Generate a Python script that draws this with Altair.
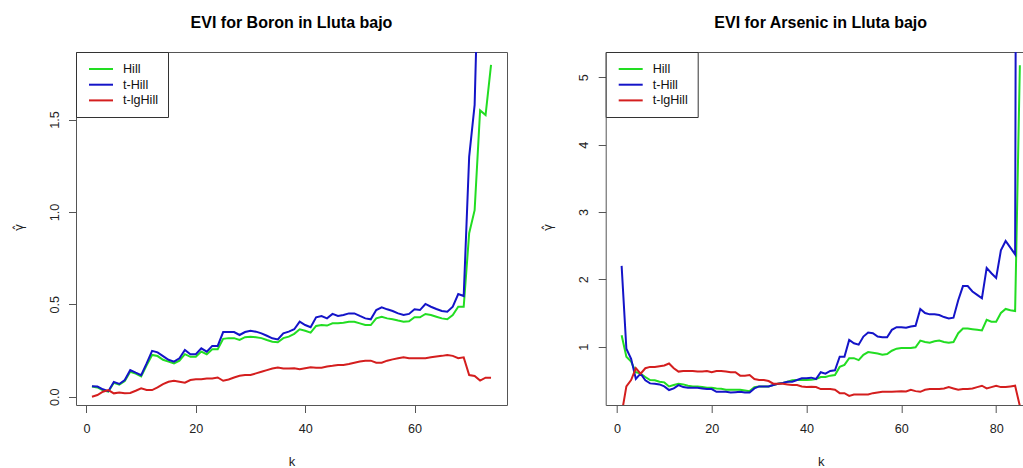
import altair as alt
import pandas as pd

# Estimators, in drawing order, and their line colours
SERIES = ["Hill", "t-Hill", "t-lgHill"]
COLORS = ["#22dd22", "#1414c8", "#d41e1e"]

# ---- Boron, Lluta bajo (k = 1 .. 74) ----
boron_hill = [0.055, 0.05, 0.035, 0.027, 0.075, 0.065, 0.085, 0.135, 0.125, 0.11,
              0.17, 0.226, 0.22, 0.20, 0.19, 0.18, 0.195, 0.23, 0.216, 0.216,
              0.244, 0.23, 0.257, 0.257, 0.313, 0.317, 0.317, 0.307, 0.322, 0.325,
              0.322, 0.317, 0.307, 0.298, 0.295, 0.317, 0.325, 0.340, 0.365, 0.357,
              0.347, 0.383, 0.388, 0.385, 0.397, 0.397, 0.40, 0.406, 0.406, 0.397,
              0.388, 0.388, 0.424, 0.433, 0.424, 0.419, 0.412, 0.406, 0.408, 0.43,
              0.43, 0.448, 0.442, 0.433, 0.424, 0.419, 0.442, 0.487, 0.487, 0.885,
              1.01, 1.55, 1.525, 1.796]
boron_thill = [0.057, 0.055, 0.04, 0.03, 0.08, 0.069, 0.09, 0.144, 0.13, 0.117,
               0.18, 0.248, 0.24, 0.22, 0.20, 0.19, 0.208, 0.253, 0.23, 0.23,
               0.262, 0.244, 0.275, 0.275, 0.35, 0.35, 0.35, 0.334, 0.35, 0.357,
               0.352, 0.343, 0.33, 0.316, 0.31, 0.343, 0.352, 0.365, 0.406, 0.388,
               0.376, 0.43, 0.437, 0.424, 0.448, 0.437, 0.442, 0.451, 0.451, 0.437,
               0.424, 0.419, 0.469, 0.484, 0.473, 0.464, 0.451, 0.442, 0.448, 0.473,
               0.469, 0.502, 0.487, 0.475, 0.464, 0.46, 0.487, 0.556, 0.545, 1.30,
               1.58, 2.7, 3.4, 3.9]
boron_tlghill = [0.0, 0.009, 0.027, 0.036, 0.018, 0.022, 0.018, 0.02, 0.032, 0.045,
                 0.036, 0.036, 0.05, 0.068, 0.081, 0.086, 0.081, 0.076, 0.09, 0.095,
                 0.095, 0.099, 0.099, 0.104, 0.086, 0.093, 0.104, 0.113, 0.117, 0.117,
                 0.126, 0.135, 0.144, 0.153, 0.158, 0.153, 0.153, 0.154, 0.148, 0.154,
                 0.159, 0.157, 0.157, 0.163, 0.167, 0.172, 0.172, 0.177, 0.184, 0.19,
                 0.195, 0.195, 0.184, 0.184, 0.195, 0.202, 0.208, 0.213, 0.208, 0.208,
                 0.208, 0.208, 0.213, 0.217, 0.221, 0.226, 0.221, 0.208, 0.213, 0.117,
                 0.112, 0.087, 0.103, 0.103]

# ---- Arsenic, Lluta bajo (k = 1 .. 85) ----
arsenic_hill = [1.17, 0.85, 0.78, 0.62, 0.60, 0.55, 0.505, 0.50, 0.48, 0.47,
                0.41, 0.43, 0.45, 0.44, 0.42, 0.41, 0.41, 0.40, 0.39, 0.39,
                0.38, 0.375, 0.36, 0.36, 0.36, 0.36, 0.35, 0.34, 0.40, 0.41,
                0.41, 0.41, 0.43, 0.45, 0.46, 0.48, 0.50, 0.505, 0.505, 0.505,
                0.51, 0.52, 0.55, 0.55, 0.57, 0.58, 0.70, 0.73, 0.83, 0.83,
                0.80, 0.88, 0.92, 0.91, 0.90, 0.88, 0.89, 0.94, 0.97, 0.98,
                0.98, 0.98, 0.99, 1.09, 1.07, 1.06, 1.08, 1.09, 1.07, 1.06,
                1.07, 1.20, 1.27, 1.27, 1.26, 1.25, 1.24, 1.40, 1.37, 1.37,
                1.50, 1.56, 1.54, 1.53, 5.18]
arsenic_thill = [2.20, 0.97, 0.82, 0.52, 0.60, 0.50, 0.455, 0.45, 0.44, 0.41,
                 0.356, 0.38, 0.43, 0.40, 0.39, 0.39, 0.39, 0.38, 0.37, 0.37,
                 0.33, 0.33, 0.33, 0.32, 0.325, 0.33, 0.32, 0.32, 0.38, 0.41,
                 0.41, 0.41, 0.43, 0.45, 0.46, 0.48, 0.48, 0.505, 0.53, 0.53,
                 0.54, 0.52, 0.62, 0.60, 0.64, 0.65, 0.85, 0.85, 1.10, 1.05,
                 1.03, 1.15, 1.21, 1.20, 1.15, 1.14, 1.14, 1.25, 1.29, 1.29,
                 1.28, 1.30, 1.31, 1.56, 1.50, 1.48, 1.48, 1.47, 1.44, 1.42,
                 1.43, 1.69, 1.90, 1.90, 1.82, 1.77, 1.72, 2.17, 2.09, 2.02,
                 2.43, 2.57, 2.47, 2.37, 30.0]
arsenic_tlghill = [0.0, 0.41, 0.505, 0.68, 0.60, 0.68, 0.70, 0.70, 0.71, 0.72,
                   0.75, 0.68, 0.63, 0.64, 0.64, 0.64, 0.63, 0.63, 0.64, 0.62,
                   0.64, 0.64, 0.63, 0.62, 0.62, 0.57, 0.57, 0.58, 0.52, 0.505,
                   0.505, 0.49, 0.45, 0.45, 0.45, 0.44, 0.43, 0.43, 0.41, 0.40,
                   0.406, 0.40, 0.37, 0.37, 0.37, 0.36, 0.31, 0.31, 0.27, 0.29,
                   0.29, 0.29, 0.29, 0.31, 0.32, 0.33, 0.33, 0.33, 0.335, 0.34,
                   0.335, 0.36, 0.34, 0.33, 0.36, 0.37, 0.37, 0.37, 0.38, 0.40,
                   0.38, 0.36, 0.37, 0.37, 0.38, 0.40, 0.42, 0.38, 0.40, 0.42,
                   0.40, 0.40, 0.41, 0.42, 0.12]

FONT = "Liberation Sans"
FRAME = "#555555"


def long_frame(columns):
    rows = []
    for name, values in zip(SERIES, columns):
        for k, v in enumerate(values, start=1):
            rows.append({"k": k, "gamma": v, "estimator": name})
    return pd.DataFrame(rows)


def panel(df, title, xdom, ydom, xticks, yticks, yfmt, width, title_dx, ktitle_x, right_frame):
    xscale = alt.Scale(domain=xdom, nice=False, zero=False)
    yscale = alt.Scale(domain=ydom, nice=False, zero=False)

    lines = alt.Chart(df).mark_line(strokeWidth=2, clip=True).encode(
        x=alt.X("k:Q", scale=xscale,
                axis=alt.Axis(values=xticks, title="k", titleX=ktitle_x, titleY=60,
                              titleAlign="center", titleBaseline="alphabetic")),
        y=alt.Y("gamma:Q", scale=yscale,
                axis=alt.Axis(values=yticks, format=yfmt, title="γ̂",
                              labelAngle=-90, labelAlign="center", labelBaseline="alphabetic",
                              labelPadding=10.5, titleAngle=270, titleX=-54, titleY=175,
                              titleAlign="center", titleBaseline="alphabetic",
                              titleFont="DejaVu Sans", titleFontSize=12)),
        color=alt.Color("estimator:N",
                        scale=alt.Scale(domain=SERIES, range=COLORS),
                        sort=SERIES,
                        legend=alt.Legend(title=None, orient="top-left", offset=0,
                                          symbolType="M-2,0H2", symbolSize=144,
                                          symbolStrokeWidth=2, symbolOffset=8,
                                          labelOffset=15, labelFontSize=12.6,
                                          labelFont=FONT, labelColor="#111111",
                                          rowPadding=1.7, padding=10,
                                          strokeColor="#333333", fillColor="white")),
    )

    # invisible copy that carries the top (and right) sides of the frame
    frame_y = (alt.Axis(orient="right", labels=False, ticks=False, title=None,
                        domain=True, grid=False)
               if right_frame else None)
    frame = alt.Chart(df).mark_line(opacity=0, clip=True).encode(
        x=alt.X("k:Q", scale=xscale,
                axis=alt.Axis(orient="top", labels=False, ticks=False, title=None,
                              domain=True, grid=False)),
        y=alt.Y("gamma:Q", scale=yscale, axis=frame_y),
    )

    return alt.layer(frame, lines).resolve_axis(x="independent", y="independent").properties(
        width=width, height=353,
        title=alt.TitleParams(title, anchor="middle", frame="group", fontSize=16,
                              fontWeight="bold", font=FONT, color="#000000",
                              baseline="alphabetic", offset=8, dx=title_dx),
    )


boron = long_frame([boron_hill, boron_thill, boron_tlghill])
arsenic = long_frame([arsenic_hill, arsenic_thill, arsenic_tlghill])

left = panel(boron, "EVI for Boron in Lluta bajo", [-1.92, 76.92], [-0.045, 1.866],
             [0, 20, 40, 60], [0.0, 0.5, 1.0, 1.5], ".1f", 431, 0, 215.5, True)
right = panel(arsenic, "EVI for Arsenic in Lluta bajo", [-2.36, 85.6], [0.134, 5.376],
              [0, 20, 40, 60, 80], [1, 2, 3, 4, 5], "d", 417, 6.5, 215, False)

chart = alt.hconcat(left, right, spacing=98.7, bounds="flush").resolve_scale(
    x="independent", y="independent"
).resolve_legend(color="independent").properties(
    padding={"left": 12, "top": 14, "right": 0, "bottom": 0},
).configure(
    font=FONT, background="white"
).configure_view(
    strokeWidth=0
).configure_axis(
    grid=False, domainColor=FRAME, domainWidth=1, tickColor=FRAME, tickWidth=1,
    tickSize=7.5, labelFont=FONT, labelFontSize=12.6, labelColor="#222222",
    labelPadding=10, titleFont=FONT, titleFontSize=13, titleFontWeight="normal",
    titleColor="#222222",
)

chart.save("out.html", embed_options={"renderer": "svg", "actions": False})
